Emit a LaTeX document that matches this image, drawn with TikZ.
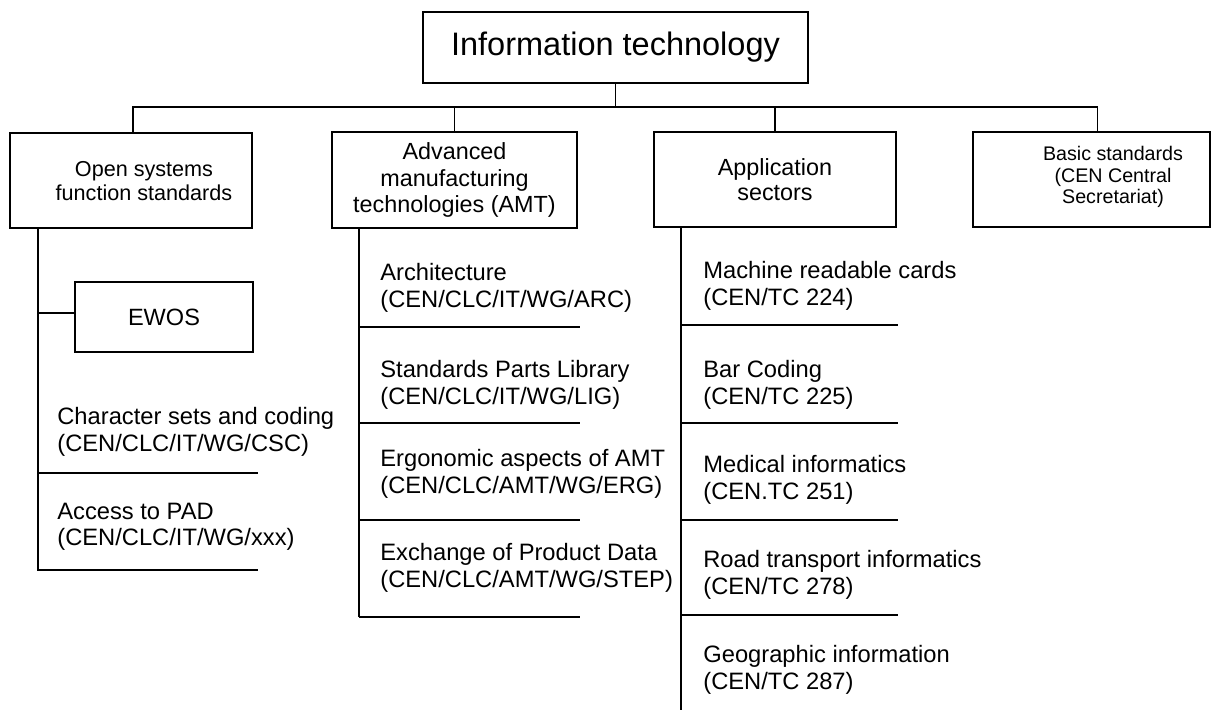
\documentclass[tikz,border=0pt]{standalone}
\usepackage{fontspec}
\setmainfont{Liberation Sans}
\begin{document}
\begin{tikzpicture}[x=0.02cm,y=-0.02cm,
  box/.style={draw, line width=1.3pt, align=center, inner sep=0pt},
  label/.style={align=center, inner sep=0pt},
  item/.style={anchor=west, align=left, inner sep=0pt, font=\fontsize{13.5}{15}\selectfont},
  conn/.style={line width=1.1pt}]
\useasboundingbox (0,0) rectangle (1214,710);

% top
\node[box, minimum width=7.7cm, minimum height=1.42cm, font=\fontsize{18.5}{22}\selectfont] (top) at (615.5,47.5) {Information technology};

% main boxes
\node[box, minimum width=4.84cm, minimum height=1.9cm] (b1) at (131,180.5) {};
\node[label, font=\fontsize{12.3}{13.6}\selectfont] (b1t) at (144,181) {Open systems\\function standards};
\node[box, minimum width=4.9cm, minimum height=1.92cm, font=\fontsize{13.3}{15.2}\selectfont] (b2) at (454.5,180) {Advanced\\manufacturing\\technologies (AMT)};
\node[box, minimum width=4.84cm, minimum height=1.9cm, font=\fontsize{13.3}{14.2}\selectfont] (b3) at (775,179.5) {Application\\sectors};
\node[box, minimum width=4.74cm, minimum height=1.9cm] (b4) at (1091.5,179.5) {};
\node[label, font=\fontsize{11.2}{12.4}\selectfont] (b4t) at (1113,177) {Basic standards\\(CEN Central\\Secretariat)};

% bus
\coordinate (bus) at (615.5,107);
\draw[conn] (top.south) -- (bus);
\draw[conn] ([xshift=0.04cm]b1.north) |- (bus) -| ([xshift=0.12cm]b4.north);
\draw[conn] (b2.north) -- (b2.north |- bus);
\draw[conn] (b3.north) -- (b3.north |- bus);

% column 1
\coordinate (s1) at (38,228);
\coordinate (e1) at (38,570);
\coordinate (u1a) at (38,473);
\coordinate (u1ae) at (258,473);
\coordinate (e1e) at (258,570);
\coordinate (ew) at (38,313);
\draw[conn] (s1) -- (e1) -- (e1e);
\draw[conn] (u1a) -- (u1ae);
\node[box, minimum width=3.56cm, minimum height=1.4cm, font=\fontsize{13.4}{15}\selectfont] (ewos) at (164,317) {EWOS};
\draw[conn] (ew) -- (ewos.west |- ew);
\node[item] (cs) at (57,432) {Character sets and coding\\(CEN/CLC/IT/WG/CSC)};
\node[item] (pad) at (57,527) {Access to PAD\\(CEN/CLC/IT/WG/xxx)};

% column 2
\coordinate (s2) at (359,228);
\coordinate (e2) at (359,617);
\draw[conn] (s2) -- (e2);
\foreach \yy/\nm in {327/a,423/b,520/c,617/d}{
  \coordinate (u2\nm) at (359,\yy);
  \coordinate (u2\nm e) at (580,\yy);
  \draw[conn] (u2\nm) -- (u2\nm e);
}
\node[item] (arc) at (380,288) {Architecture\\(CEN/CLC/IT/WG/ARC)};
\node[item] (lig) at (380,385) {Standards Parts Library\\(CEN/CLC/IT/WG/LIG)};
\node[item] (erg) at (380,474) {Ergonomic aspects of AMT\\(CEN/CLC/AMT/WG/ERG)};
\node[item] (stp) at (380,568) {Exchange of Product Data\\(CEN/CLC/AMT/WG/STEP)};

% column 3
\coordinate (s3) at (681,227);
\coordinate (e3) at (681,712);
\draw[conn] (s3) -- (e3);
\foreach \yy/\nm in {325/a,423/b,520/c,615/d}{
  \coordinate (u3\nm) at (681,\yy);
  \coordinate (u3\nm e) at (898,\yy);
  \draw[conn] (u3\nm) -- (u3\nm e);
}
\node[item] (mrc) at (703,286) {Machine readable cards\\(CEN/TC 224)};
\node[item] (bar) at (703,385) {Bar Coding\\(CEN/TC 225)};
\node[item] (med) at (703,480) {Medical informatics\\(CEN.TC 251)};
\node[item] (rti) at (703,575) {Road transport informatics\\(CEN/TC 278)};
\node[item] (geo) at (703,670) {Geographic information\\(CEN/TC 287)};
\end{tikzpicture}
\end{document}
